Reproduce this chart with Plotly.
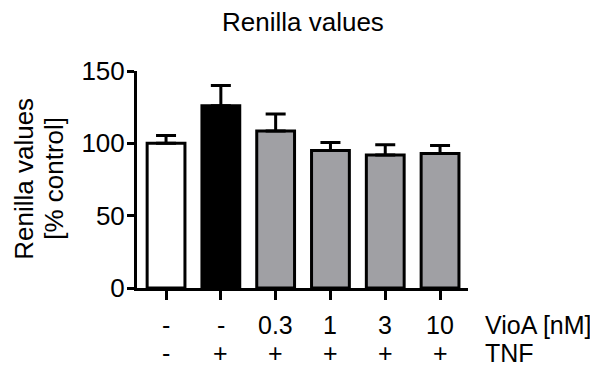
import plotly.graph_objects as go

categories = ["ctrl", "TNF", "VioA 0.3", "VioA 1", "VioA 3", "VioA 10"]
values = [100, 126, 108.6, 95, 92, 93]
errors_up = [5.4, 14, 11.7, 5.5, 7, 5.5]
colors = ["#ffffff", "#000000", "#a0a0a4", "#a0a0a4", "#a0a0a4", "#a0a0a4"]
vioa_labels = ["-", "-", "0.3", "1", "3", "10"]
tnf_labels = ["-", "+", "+", "+", "+", "+"]
y_ticks = [0, 50, 100, 150]

FONT = "Liberation Sans, Arial, sans-serif"
FS = 26
FS_X = 25

OFF = 8  # default body margin of the page
W, H = 598 - OFF, 387 - OFF
L, R, T, B = 137 - OFF, 598 - 468, 71 - OFF, 387 - 288.5
plot_w = W - L - R
plot_h = H - T - B

def py(ypix):
    return (H - B - (ypix - OFF)) / plot_h

def px(xpix):
    return ((xpix - OFF) - L) / plot_w

xs = list(range(len(categories)))

fig = go.Figure()
fig.add_trace(go.Bar(
    x=xs, y=values, width=0.69,
    marker=dict(color=colors, line=dict(color="black", width=3)),
    error_y=dict(type="data", symmetric=False, array=errors_up,
                 arrayminus=[0] * len(values), color="black",
                 thickness=3, width=10),
    showlegend=False,
))

def txt(size=FS, **kw):
    d = dict(showarrow=False, font=dict(family=FONT, size=size, color="black"))
    d.update(kw)
    return d

annotations = []
for i, (a, b) in enumerate(zip(vioa_labels, tnf_labels)):
    annotations.append(txt(size=FS_X, x=i, xref="x", y=py(326), yref="paper", text=a,
                           xanchor="center", yanchor="middle"))
    annotations.append(txt(size=FS_X, x=i, xref="x", y=py(354), yref="paper", text=b,
                           xanchor="center", yanchor="middle"))
annotations.append(txt(size=FS_X, x=px(483), xref="paper", y=py(326), yref="paper",
                       text="VioA [nM]", xanchor="left", yanchor="middle"))
annotations.append(txt(size=FS_X, x=px(483), xref="paper", y=py(354), yref="paper",
                       text="TNF", xanchor="left", yanchor="middle"))
annotations.append(txt(x=px(24), xref="paper", y=py(179), yref="paper",
                       text="Renilla values", textangle=-90,
                       xanchor="center", yanchor="middle"))
annotations.append(txt(x=px(54), xref="paper", y=py(179), yref="paper",
                       text="[% control]", textangle=-90,
                       xanchor="center", yanchor="middle"))
annotations.append(txt(x=0.5, xref="paper", y=py(22), yref="paper",
                       text="Renilla values", xanchor="center", yanchor="middle"))

fig.update_layout(
    width=W, height=H,
    margin=dict(l=L, r=R, t=T, b=B, pad=0),
    paper_bgcolor="white", plot_bgcolor="white",
    font=dict(family=FONT, size=FS, color="black"),
    annotations=annotations,
)
fig.update_xaxes(range=[-0.53, 5.51], showline=True, linecolor="black", linewidth=3,
                 ticks="outside", ticklen=9, tickwidth=3, tickcolor="black",
                 tickvals=xs, showticklabels=False, showgrid=False, zeroline=False,
                 fixedrange=True)
fig.update_yaxes(range=[0, 150], showline=True, linecolor="black", linewidth=3,
                 ticks="outside", ticklen=7, tickwidth=3, tickcolor="black",
                 tickvals=y_ticks, showgrid=False, zeroline=False,
                 tickfont=dict(family=FONT, size=FS, color="black"),
                 fixedrange=True)
try:
    fig.update_yaxes(ticklabelstandoff=-3)
except Exception:
    pass

fig.write_html("out.html")
